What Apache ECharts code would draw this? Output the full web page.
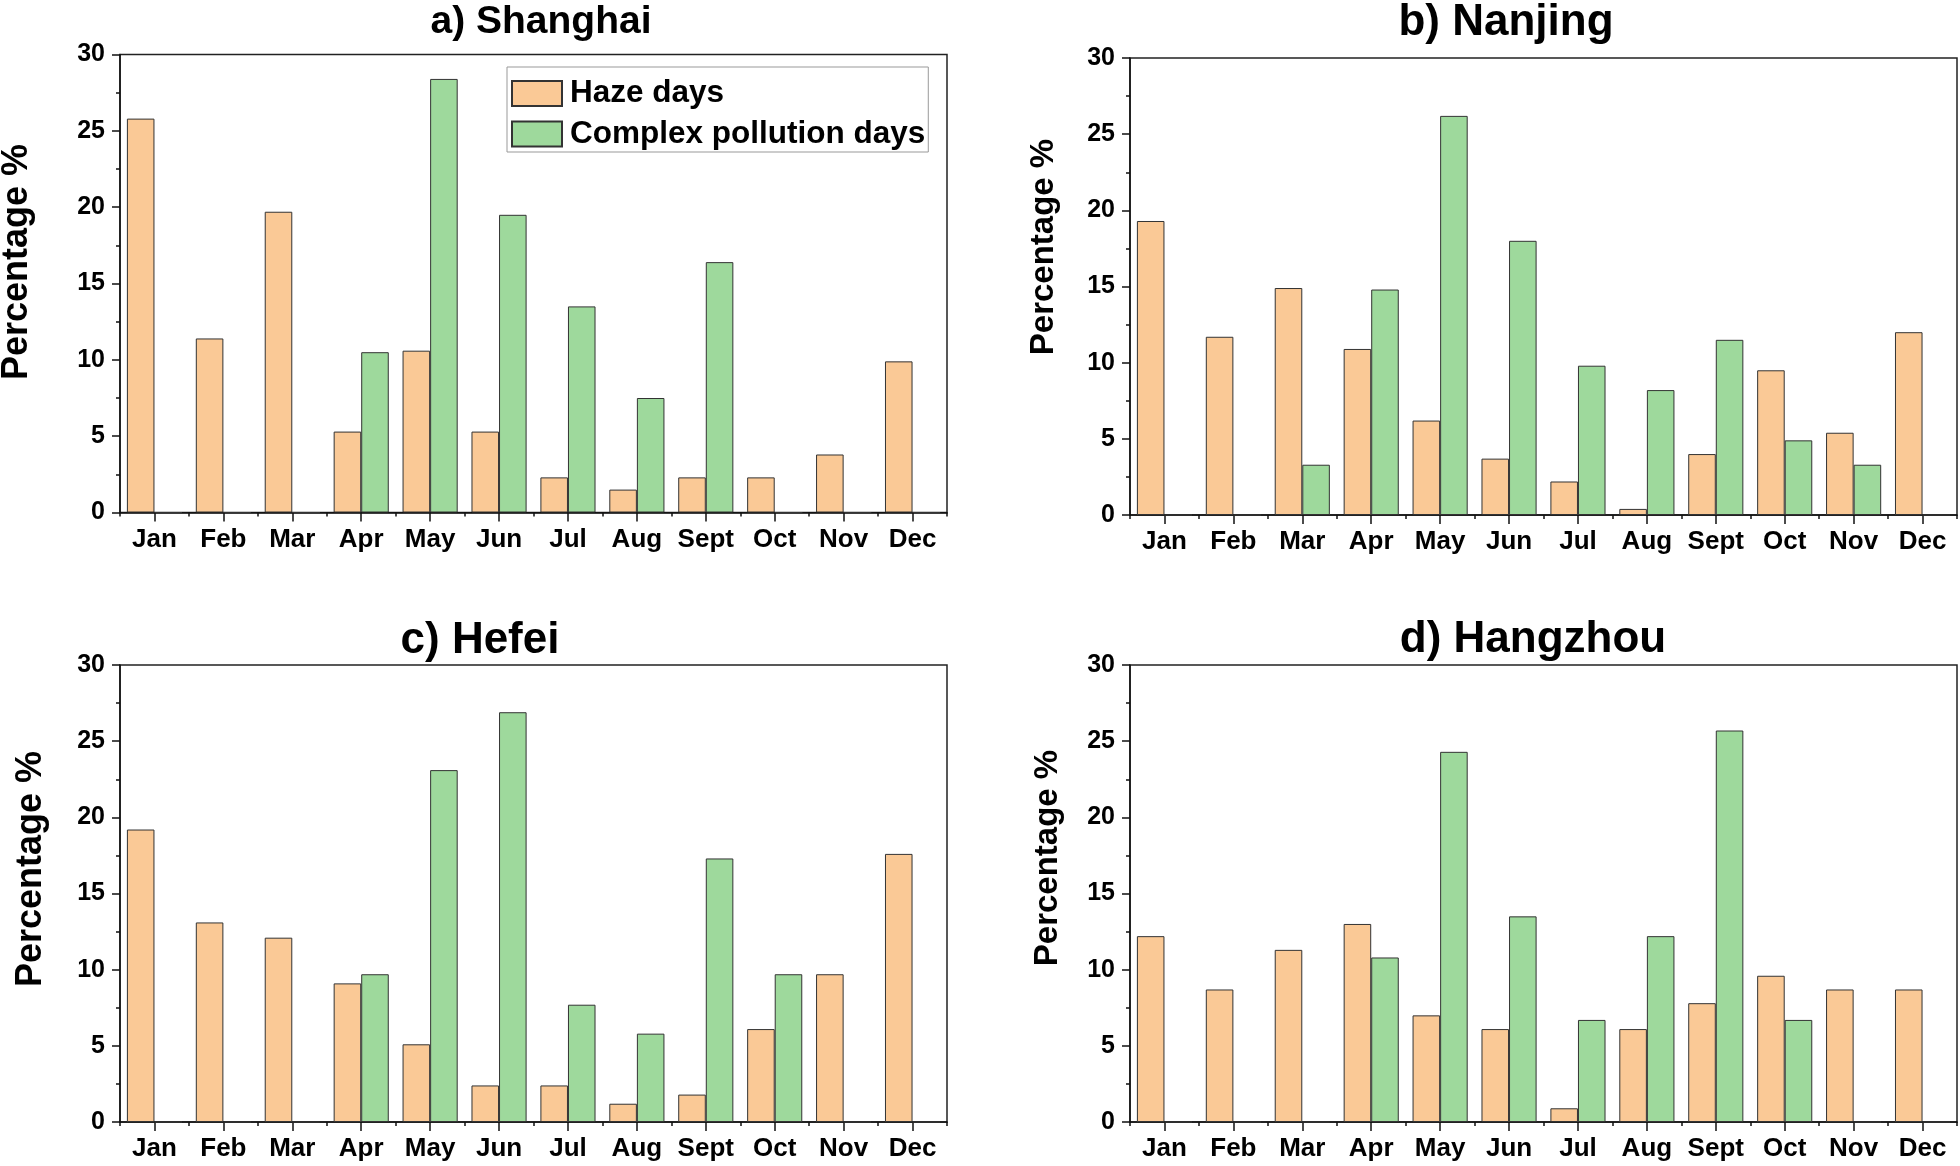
<!DOCTYPE html>
<html>
<head>
<meta charset="utf-8">
<script src="https://cdn.jsdelivr.net/npm/echarts@6/dist/echarts.min.js"></script>
<style>
html,body{margin:0;padding:0;background:#fff;}
#chart{width:1960px;height:1166px;}
</style>
</head>
<body>
<div id="chart"></div>
<script>
const months = ['Jan','Feb','Mar','Apr','May','Jun','Jul','Aug','Sept','Oct','Nov','Dec'];
const yTicks = [0, 5, 10, 15, 20, 25, 30];
const seriesNames = ['Haze days', 'Complex pollution days'];
const panelTitles = ['a) Shanghai', 'b) Nanjing', 'c) Hefei', 'd) Hangzhou'];

const shanghaiHaze    = [25.8, 11.4, 19.7, 5.3, 10.6, 5.3, 2.3, 1.5, 2.3, 2.3, 3.8, 9.9];
const shanghaiComplex = [0, 0, 0, 10.5, 28.4, 19.5, 13.5, 7.5, 16.4, 0, 0, 0];
const nanjingHaze     = [19.3, 11.7, 14.9, 10.9, 6.2, 3.7, 2.2, 0.4, 4.0, 9.5, 5.4, 12.0];
const nanjingComplex  = [0, 0, 3.3, 14.8, 26.2, 18.0, 9.8, 8.2, 11.5, 4.9, 3.3, 0];
const hefeiHaze       = [19.2, 13.1, 12.1, 9.1, 5.1, 2.4, 2.4, 1.2, 1.8, 6.1, 9.7, 17.6];
const hefeiComplex    = [0, 0, 0, 9.7, 23.1, 26.9, 7.7, 5.8, 17.3, 9.7, 0, 0];
const hangzhouHaze    = [12.2, 8.7, 11.3, 13.0, 7.0, 6.1, 0.9, 6.1, 7.8, 9.6, 8.7, 8.7];
const hangzhouComplex = [0, 0, 0, 10.8, 24.3, 13.5, 6.7, 12.2, 25.7, 6.7, 0, 0];

const hazeData = [shanghaiHaze, nanjingHaze, hefeiHaze, hangzhouHaze];
const complexData = [shanghaiComplex, nanjingComplex, hefeiComplex, hangzhouComplex];

const FONT = "'Liberation Sans', Arial, Helvetica, sans-serif";
const HAZE = '#FAC996';
const COMPLEX = '#9ED99C';

const grids = [
  {left: 120, top: 54.5, width: 827, height: 458},
  {left: 1130, top: 58, width: 827, height: 457},
  {left: 120, top: 665, width: 827, height: 457},
  {left: 1130, top: 665, width: 827, height: 457}
];
const titlePos = [
  {x: 541, y: 22, size: 39},
  {x: 1506, y: 23, size: 44},
  {x: 480, y: 641, size: 44},
  {x: 1533, y: 640, size: 44}
];
const yTitlePos = [
  {x: 17, y: 262, size: 36},
  {x: 1044, y: 247, size: 33},
  {x: 31, y: 869, size: 36},
  {x: 1048, y: 858, size: 33}
];

const xAxes = [], yAxes = [], series = [], graphics = [];
grids.forEach((g, i) => {
  g.show = true;
  g.borderColor = '#222';
  g.borderWidth = 1.5;
  g.containLabel = false;
  xAxes.push({
    type: 'category', gridIndex: i, data: months,
    axisLine: {show: true, lineStyle: {color: '#111', width: 1.5}},
    axisTick: {show: true, alignWithLabel: false, length: 4, lineStyle: {color: '#111', width: 1.5}},
    axisLabel: {show: true, margin: 14, color: '#000', fontFamily: FONT, fontWeight: 'bold', fontSize: 26, interval: 0},
    splitLine: {show: false}
  });
  xAxes.push({
    type: 'category', gridIndex: i, data: months, position: 'bottom',
    axisLine: {show: false},
    axisTick: {show: true, alignWithLabel: true, length: 9, lineStyle: {color: '#111', width: 1.5}},
    axisLabel: {show: false},
    splitLine: {show: false}
  });
  yAxes.push({
    type: 'value', gridIndex: i, min: yTicks[0], max: yTicks[yTicks.length - 1], interval: 5,
    axisLine: {show: true, lineStyle: {color: '#111', width: 1.5}},
    axisTick: {show: true, inside: false, length: 8, lineStyle: {color: '#111', width: 1.5}},
    minorTick: {show: true, splitNumber: 2, length: 4, lineStyle: {color: '#111', width: 1.5}},
    axisLabel: {margin: 15, color: '#000', fontFamily: FONT, fontWeight: 'bold', fontSize: 25},
    splitLine: {show: false}
  });
  series.push({
    name: seriesNames[0], type: 'bar', xAxisIndex: i * 2, yAxisIndex: i,
    data: hazeData[i], barGap: '0%', barCategoryGap: '20%',
    itemStyle: {color: HAZE, borderColor: '#333', borderWidth: 1}
  });
  series.push({
    name: seriesNames[1], type: 'bar', xAxisIndex: i * 2, yAxisIndex: i,
    data: complexData[i], barGap: '0%', barCategoryGap: '20%',
    itemStyle: {color: COMPLEX, borderColor: '#333', borderWidth: 1}
  });
  graphics.push({
    type: 'text', x: titlePos[i].x, y: titlePos[i].y,
    style: {text: panelTitles[i], fill: '#000', font: `bold ${titlePos[i].size}px ${FONT}`,
            textAlign: 'center', textVerticalAlign: 'middle'}
  });
  graphics.push({
    type: 'text', x: yTitlePos[i].x, y: yTitlePos[i].y, rotation: Math.PI / 2,
    style: {text: 'Percentage %', fill: '#000', font: `bold ${yTitlePos[i].size}px ${FONT}`,
            textAlign: 'center', textVerticalAlign: 'middle'}
  });
});

const chart = echarts.init(document.getElementById('chart'), null, {renderer: 'canvas'});
chart.setOption({
  backgroundColor: '#fff',
  animation: false,
  grid: grids,
  xAxis: xAxes,
  yAxis: yAxes,
  legend: {
    data: seriesNames.map(n => ({name: n, icon: 'rect'})),
    orient: 'vertical',
    left: 507, top: 67,
    padding: [10.5, 3, 2, 4],
    itemWidth: 50, itemHeight: 25, itemGap: 8.5,
    borderColor: '#999', borderWidth: 1,
    textStyle: {fontFamily: FONT, fontWeight: 'bold', fontSize: 31.5, color: '#000', padding: [0, 0, 0, 3]}
  },
  graphic: graphics,
  series: series
});
</script>
</body>
</html>
